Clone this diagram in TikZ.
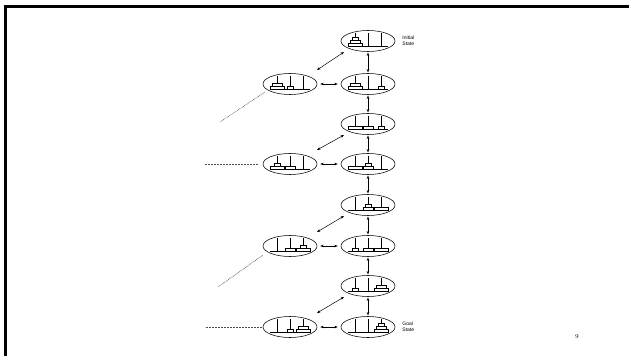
\documentclass[tikz,border=0pt]{standalone}
\usepackage{fontspec}
\newfontfamily\lab{Liberation Sans}
\usetikzlibrary{calc,arrows.meta,shapes.geometric}
\tikzset{
  st/.style={ellipse, draw, line width=0.55pt, minimum width=54pt, minimum height=21pt, inner sep=0pt},
  dbl/.style={{Stealth[length=3.4pt,width=2.6pt]}-{Stealth[length=3.4pt,width=2.6pt]}, line width=0.5pt},
  dots/.style={line width=0.6pt, gray!60!black, dash pattern=on 0.7pt off 0.8pt},
  peg/.style={line width=0.5pt},
  diskst/.style={draw, fill=white, line width=0.45pt},
  frameline/.style={line width=3pt, line join=miter},
  lbl/.style={anchor=west, align=left, font=\lab\fontsize{5}{5.6}\selectfont, inner sep=0pt},
}
\newcommand\hpegs[1]{%
  \draw[peg] ($(#1)+(-20,5)$) -- ($(#1)+(20,5)$);
  \foreach \p in {-13,0,13}{\draw[peg] ($(#1)+(\p,5)$) -- ($(#1)+(\p,-8)$);}}
\newcommand\hdisk[4]{%
  \draw[diskst] ($(#1)+({#2-#4/2},{5-2.8*#3})$) rectangle ($(#1)+({#2+#4/2},{5-2.8*(#3+1)})$);}
\begin{document}
\begin{tikzpicture}[x=1pt,y=-1pt]
\useasboundingbox (0,0) rectangle (629,356);
\draw[frameline] (5.5,356) -- (5.5,6.5) -- (629,6.5);

% right column
\node[st] (R1) at (368,41) {};
\node[st] (R2) at (368,84) {};
\node[st] (R3) at (368,124) {};
\node[st] (R4) at (368,164) {};
\node[st] (R5) at (368,205) {};
\node[st] (R6) at (368,246) {};
\node[st] (R7) at (368,286) {};
\node[st] (R8) at (368,327) {};
% left column
\node[st] (L1) at (290,84) {};
\node[st] (L2) at (290,164) {};
\node[st] (L3) at (290,246) {};
\node[st] (L4) at (290,327) {};

\foreach \n in {R1,R2,R3,R4,R5,R6,R7,R8,L1,L2,L3,L4}{\hpegs{\n}}

% disks: node, peg x, level, width (L=14, M=10, S=6)
\hdisk{R1}{-13}{0}{14}\hdisk{R1}{-13}{1}{10}\hdisk{R1}{-13}{2}{6}
\hdisk{R2}{-13}{0}{14}\hdisk{R2}{-13}{1}{10}\hdisk{R2}{13}{0}{6}
\hdisk{R3}{-13}{0}{14}\hdisk{R3}{0}{0}{10}\hdisk{R3}{13}{0}{6}
\hdisk{R4}{-13}{0}{14}\hdisk{R4}{0}{0}{10}\hdisk{R4}{0}{1}{6}
\hdisk{R5}{0}{0}{10}\hdisk{R5}{0}{1}{6}\hdisk{R5}{13}{0}{14}
\hdisk{R6}{-13}{0}{6}\hdisk{R6}{0}{0}{10}\hdisk{R6}{13}{0}{14}
\hdisk{R7}{-13}{0}{6}\hdisk{R7}{13}{0}{14}\hdisk{R7}{13}{1}{10}
\hdisk{R8}{13}{0}{14}\hdisk{R8}{13}{1}{10}\hdisk{R8}{13}{2}{6}
\hdisk{L1}{-13}{0}{14}\hdisk{L1}{-13}{1}{10}\hdisk{L1}{0}{0}{6}
\hdisk{L2}{-13}{0}{14}\hdisk{L2}{-13}{1}{6}\hdisk{L2}{0}{0}{10}
\hdisk{L3}{0}{0}{10}\hdisk{L3}{13}{0}{14}\hdisk{L3}{13}{1}{6}
\hdisk{L4}{0}{0}{6}\hdisk{L4}{13}{0}{14}\hdisk{L4}{13}{1}{10}

% vertical arrows
\foreach \a/\b in {R1/R2,R2/R3,R3/R4,R4/R5,R5/R6,R6/R7,R7/R8}{
  \draw[dbl, shorten <=0.8pt, shorten >=0.8pt] (\a.south) -- (\b.north);}
% horizontal arrows
\foreach \a/\b in {L1/R2,L2/R4,L3/R6,L4/R8}{
  \draw[dbl, shorten <=3pt, shorten >=3pt] (\a.east) -- (\b.west);}
% diagonal arrows
\foreach \a/\b in {R1/L1,R3/L2,R5/L3,R7/L4}{
  \draw[dbl] ($(\a)+(-24,11)$) -- ($(\b)+(27,-14)$);}

% dotted continuations
\draw[dots] ($(L1)+(-25,8)$) -- ($(L1)+(-70,38)$);
\draw[dots] ($(L2)+(-32,0)$) -- ($(L2)+(-85,0)$);
\draw[dots] ($(L3)+(-27,9)$) -- ($(L3)+(-72,41)$);
\draw[dots] ($(L4)+(-28,0)$) -- ($(L4)+(-85,0)$);

% labels
\node[lbl] (ini) at ($(R1.east)+(7,0)$) {Initial\\State};
\node[lbl] (goal) at ($(R8.east)+(7,0)$) {Goal\\State};
\node[font=\fontsize{6}{7}\selectfont, inner sep=0pt] (pg) at (577,337) {9};
\end{tikzpicture}
\end{document}
